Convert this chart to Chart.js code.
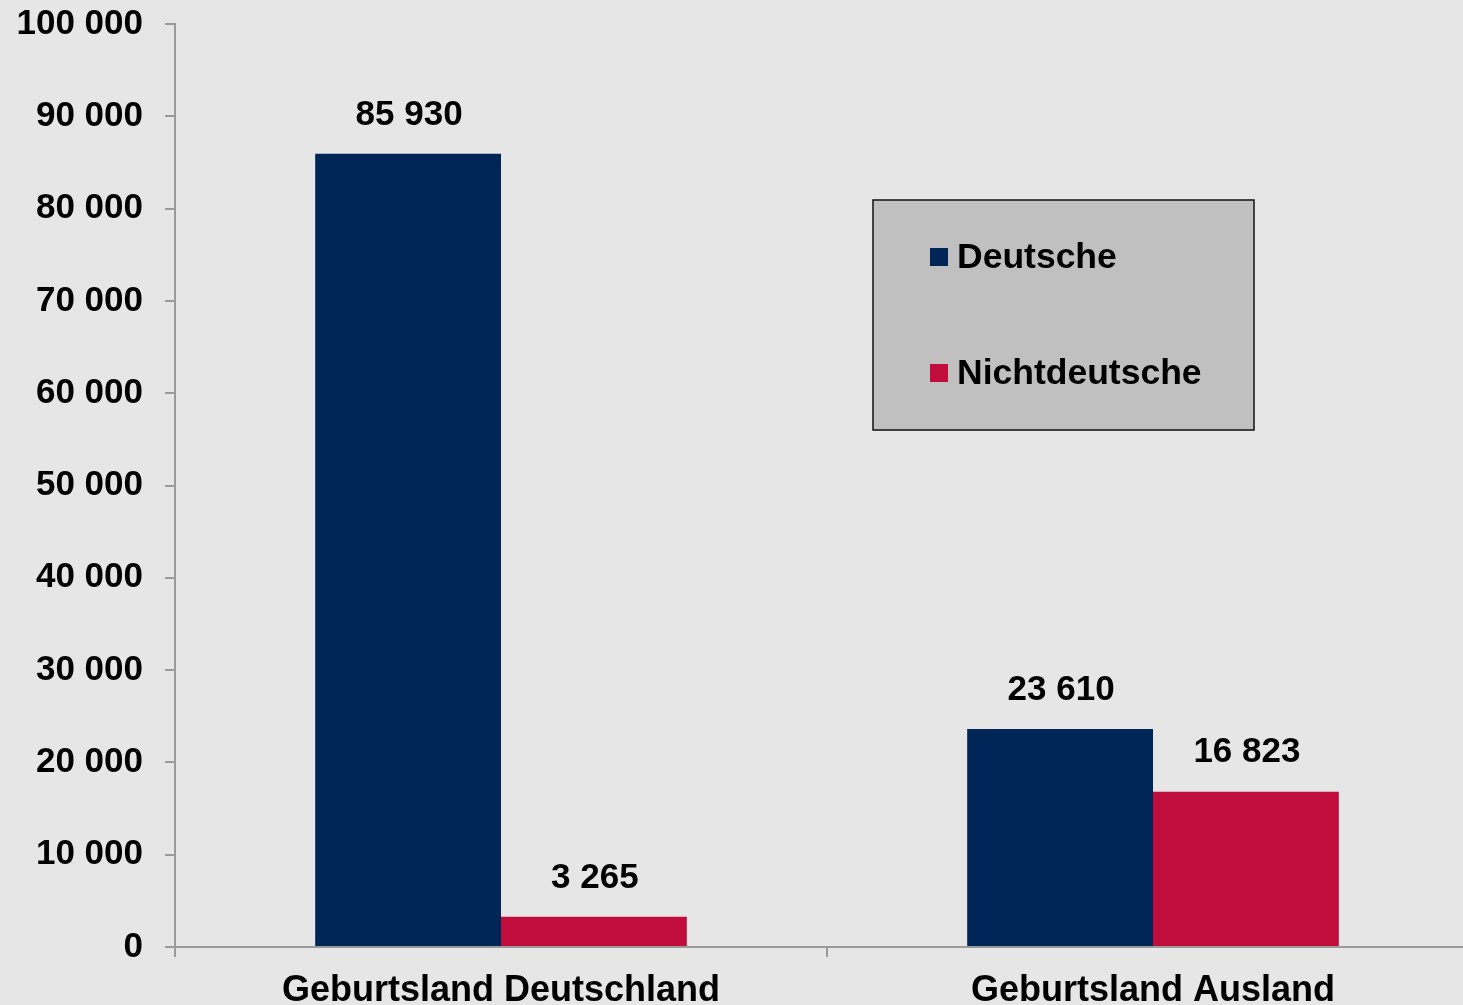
<!DOCTYPE html>
<html lang="de">
<head>
<meta charset="utf-8">
<title>Geburtsland nach Staatsangehörigkeit</title>
<script src="https://cdn.jsdelivr.net/npm/chart.js@4/dist/chart.umd.min.js"></script>
<style>
    html, body {
        margin: 0;
        padding: 0;
        overflow: hidden;
        background: #e6e6e6;
    }
    #wrap {
        position: relative;
        width: 1479px;
        height: 1005px;
    }
</style>
</head>
<body>
<div id="wrap"><canvas id="birthChart"></canvas></div>
<script>
const categories = ["Geburtsland Deutschland", "Geburtsland Ausland"];
const seriesNames = ["Deutsche", "Nichtdeutsche"];
const deutscheValues = [85930, 23610];
const nichtdeutscheValues = [3265, 16823];
const yMax = 100000;
const yStep = 10000;

const NAVY = "#002657";
const RED = "#c00d3b";
const AXIS = "#9a9a9a";
const FONT_FAMILY = "'Liberation Sans', Arial, sans-serif";

function formatNumber(value) {
    return String(Math.round(value)).replace(/\B(?=(\d{3})+(?!\d))/g, " ");
}

// value labels above every bar
const barLabelPlugin = {
    id: "barValueLabels",
    afterDatasetsDraw(chart) {
        const { ctx } = chart;
        ctx.save();
        ctx.fillStyle = "#000";
        ctx.font = "bold 35px " + FONT_FAMILY;
        ctx.textAlign = "center";
        ctx.textBaseline = "middle";
        chart.data.datasets.forEach((dataset, dsIndex) => {
            const meta = chart.getDatasetMeta(dsIndex);
            meta.data.forEach((bar, index) => {
                ctx.fillText(formatNumber(dataset.data[index]), bar.x + 1, bar.y - 39);
            });
        });
        ctx.restore();
    }
};

// boxed legend inside the plot
const boxLegendPlugin = {
    id: "boxLegend",
    afterDraw(chart) {
        const { ctx } = chart;
        const box = { x: 873, y: 200, w: 381, h: 230 };
        ctx.save();
        ctx.fillStyle = "#c0c0c0";
        ctx.fillRect(box.x, box.y, box.w, box.h);
        ctx.strokeStyle = "#111";
        ctx.lineWidth = 1.5;
        ctx.strokeRect(box.x, box.y, box.w, box.h);

        const rows = [257, 373];
        ctx.font = "bold 35.5px " + FONT_FAMILY;
        ctx.textAlign = "left";
        ctx.textBaseline = "middle";
        chart.data.datasets.forEach((dataset, index) => {
            const cy = rows[index];
            ctx.fillStyle = dataset.backgroundColor;
            ctx.fillRect(930, cy - 9, 18, 18);
            ctx.fillStyle = "#000";
            ctx.fillText(dataset.label, 957, cy + 1);
        });
        ctx.restore();
    }
};

const canvas = document.getElementById("birthChart");

new Chart(canvas.getContext("2d"), {
    type: "bar",
    data: {
        labels: categories,
        datasets: [
            {
                label: seriesNames[0],
                data: deutscheValues,
                backgroundColor: NAVY,
                borderWidth: 0
            },
            {
                label: seriesNames[1],
                data: nichtdeutscheValues,
                backgroundColor: RED,
                borderWidth: 0
            }
        ]
    },
    options: {
        responsive: true,
        maintainAspectRatio: false,
        animation: false,
        events: [],
        layout: {
            padding: { top: 24, right: 0, bottom: 0, left: 0 }
        },
        datasets: {
            bar: {
                categoryPercentage: 0.57,
                barPercentage: 1.0
            }
        },
        plugins: {
            legend: { display: false },
            tooltip: { enabled: false }
        },
        scales: {
            x: {
                offset: true,
                afterFit(scale) {
                    scale.height = 58;
                    scale.paddingLeft = 0;
                    scale.paddingRight = 0;
                },
                grid: {
                    offset: true,
                    drawOnChartArea: false,
                    drawTicks: true,
                    tickLength: 10,
                    color: AXIS,
                    lineWidth: 2
                },
                border: {
                    display: true,
                    color: AXIS,
                    width: 2
                },
                ticks: {
                    color: "#000",
                    padding: 12,
                    maxRotation: 0,
                    font: {
                        family: FONT_FAMILY,
                        size: 36,
                        weight: "bold"
                    }
                }
            },
            y: {
                min: 0,
                max: yMax,
                afterFit(scale) {
                    scale.width = 175;
                    scale.paddingTop = 0;
                    scale.paddingBottom = 0;
                },
                grid: {
                    drawOnChartArea: false,
                    drawTicks: true,
                    tickLength: 10,
                    color: AXIS,
                    lineWidth: 2
                },
                border: {
                    display: true,
                    color: AXIS,
                    width: 2
                },
                ticks: {
                    stepSize: yStep,
                    color: "#000",
                    padding: 22,
                    font: {
                        family: FONT_FAMILY,
                        size: 35,
                        weight: "bold"
                    },
                    callback: value => formatNumber(value)
                }
            }
        }
    },
    plugins: [barLabelPlugin, boxLegendPlugin]
});
</script>
</body>
</html>
